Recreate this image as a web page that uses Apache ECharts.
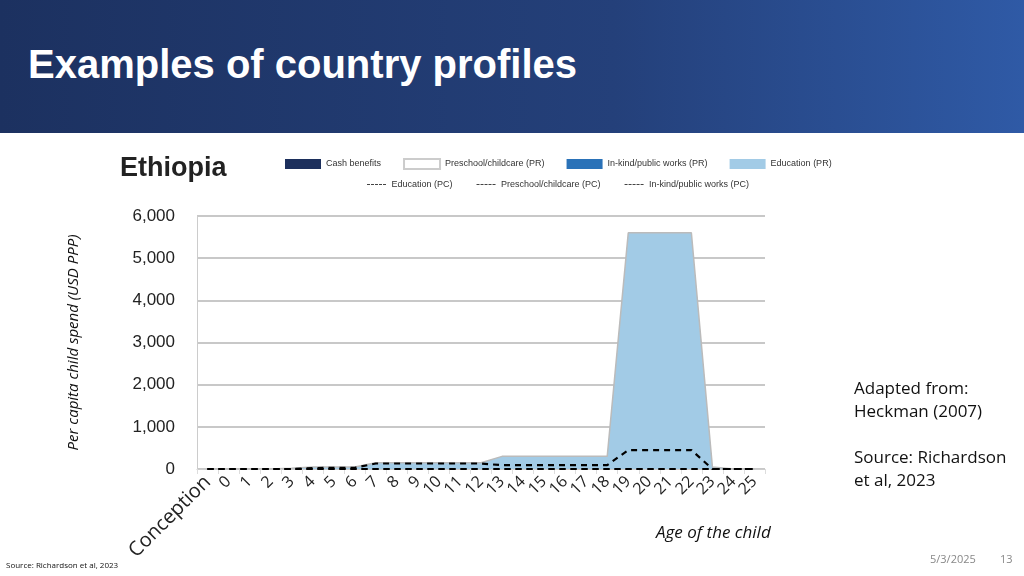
<!DOCTYPE html>
<html><head><meta charset="utf-8">
<script src="https://cdn.jsdelivr.net/npm/echarts@6/dist/echarts.min.js"></script>
<style>
body{margin:0;width:1024px;height:576px;position:relative;background:#fff;font-family:"Liberation Sans",Arial,sans-serif;overflow:hidden}
#hdr{position:absolute;left:0;top:0;width:1024px;height:133px;background:linear-gradient(90deg,#1c3160 0%,#24407a 60%,#2f5aa6 100%)}
#hdr div{position:absolute;left:28px;top:42px;color:#fff;font-weight:bold;font-size:40px}
#c{position:absolute;left:0;top:133px;width:1024px;height:443px}
.t{position:absolute;font-family:"Open Sans",sans-serif;color:#111}
</style></head><body>
<div id="hdr"><div>Examples of country profiles</div></div>
<div id="c"></div>
<div class="t" style="left:854px;top:376px;font-size:17px;line-height:23px">Adapted from:<br>Heckman (2007)<br><br>Source: Richardson<br>et al, 2023</div>
<div class="t" style="left:656px;top:520px;font-size:17px;font-style:italic">Age of the child</div>
<div class="t" style="left:6px;top:559px;font-size:8px">Source: Richardson et al, 2023</div>
<div class="t" style="left:930px;top:551px;font-size:11px;color:#888">5/3/2025</div>
<div class="t" style="left:1000px;top:551px;font-size:11px;color:#888">13</div>
<script>
var categories=['Conception','0','1','2','3','4','5','6','7','8','9','10','11','12','13','14','15','16','17','18','19','20','21','22','23','24','25'];
var educationPR=[0,0,0,0,20,50,50,50,150,150,150,150,150,150,300,300,300,300,300,300,5600,5600,5600,5600,50,0,0];
var educationPC=[0,0,0,0,0,20,30,30,130,130,130,130,130,130,90,90,90,90,90,90,450,450,450,450,0,0,0];
var otherPC=[0,0,0,0,0,0,0,0,0,0,0,0,0,0,0,0,0,0,0,0,0,0,0,0,0,0,0];
var yTicks=[0,1000,2000,3000,4000,5000,6000];
var ch=echarts.init(document.getElementById('c'));
var dash={type:[6,5],width:2.2,color:'#000'};
var dashIcon='path://M0,0h3v1h-3zM4,0h3v1h-3zM8,0h3v1h-3zM12,0h3v1h-3zM16,0h3v1h-3z';
ch.setOption({
 animation:false,
 title:{text:'Ethiopia',left:115,top:17,textStyle:{fontSize:27,fontWeight:'bold',color:'#222',fontFamily:'Liberation Sans'}},
 legend:[{top:20,left:280,icon:'rect',itemWidth:36,itemHeight:10,itemGap:22,textStyle:{fontSize:9,color:'#333'},
   data:['Cash benefits','Preschool/childcare (PR)','In-kind/public works (PR)','Education (PR)']},
  {top:42,left:362,icon:dashIcon,itemWidth:20,itemHeight:1,itemGap:24,textStyle:{fontSize:9,color:'#333'},
   data:['Education (PC)','Preschool/childcare (PC)','In-kind/public works (PC)']}],
 grid:{left:197,right:259,top:83,bottom:107},
 xAxis:{type:'category',data:categories,boundaryGap:true,
  axisLine:{lineStyle:{color:'#ccc'}},axisTick:{show:true,lineStyle:{color:'#ddd'}},
  axisLabel:{rotate:45,interval:0,fontSize:16,color:'#222',fontFamily:'Open Sans',margin:10,
   formatter:function(v){return v==='Conception'?'{c|'+v+'}':v},rich:{c:{fontSize:20,color:'#222',fontFamily:'Open Sans'}}}},
 yAxis:{type:'value',min:0,max:6000,interval:1000,
  name:'Per capita child spend (USD PPP)',nameLocation:'middle',nameGap:116,nameTextStyle:{fontSize:15,fontStyle:'italic',fontFamily:'Open Sans',color:'#111'},
  axisLine:{show:true,lineStyle:{color:'#ccc'}},splitLine:{lineStyle:{color:'#c8c8c8',width:2}},
  axisLabel:{fontSize:17,color:'#222',margin:22,formatter:function(v){return yTicks.indexOf(v)>=0?v.toLocaleString('en-US'):''}}},
 series:[
  {name:'Cash benefits',type:'line',data:[],itemStyle:{color:'#1c2f5c'}},
  {name:'Preschool/childcare (PR)',type:'line',data:[],itemStyle:{color:'#fff',borderColor:'#ccc',borderWidth:1}},
  {name:'In-kind/public works (PR)',type:'line',data:[],itemStyle:{color:'#2a72b8'}},
  {name:'Education (PR)',type:'line',data:educationPR,symbol:'none',lineStyle:{color:'#bbb',width:1.5},areaStyle:{color:'#a2cbe6',opacity:1},itemStyle:{color:'#a2cbe6'}},
  {name:'Education (PC)',type:'line',data:educationPC,symbol:'none',lineStyle:dash,itemStyle:{color:'#444'}},
  {name:'Preschool/childcare (PC)',type:'line',data:otherPC,symbol:'none',lineStyle:dash,itemStyle:{color:'#444'}},
  {name:'In-kind/public works (PC)',type:'line',data:otherPC,symbol:'none',lineStyle:dash,itemStyle:{color:'#444'}}
 ]
});
</script></body></html>
